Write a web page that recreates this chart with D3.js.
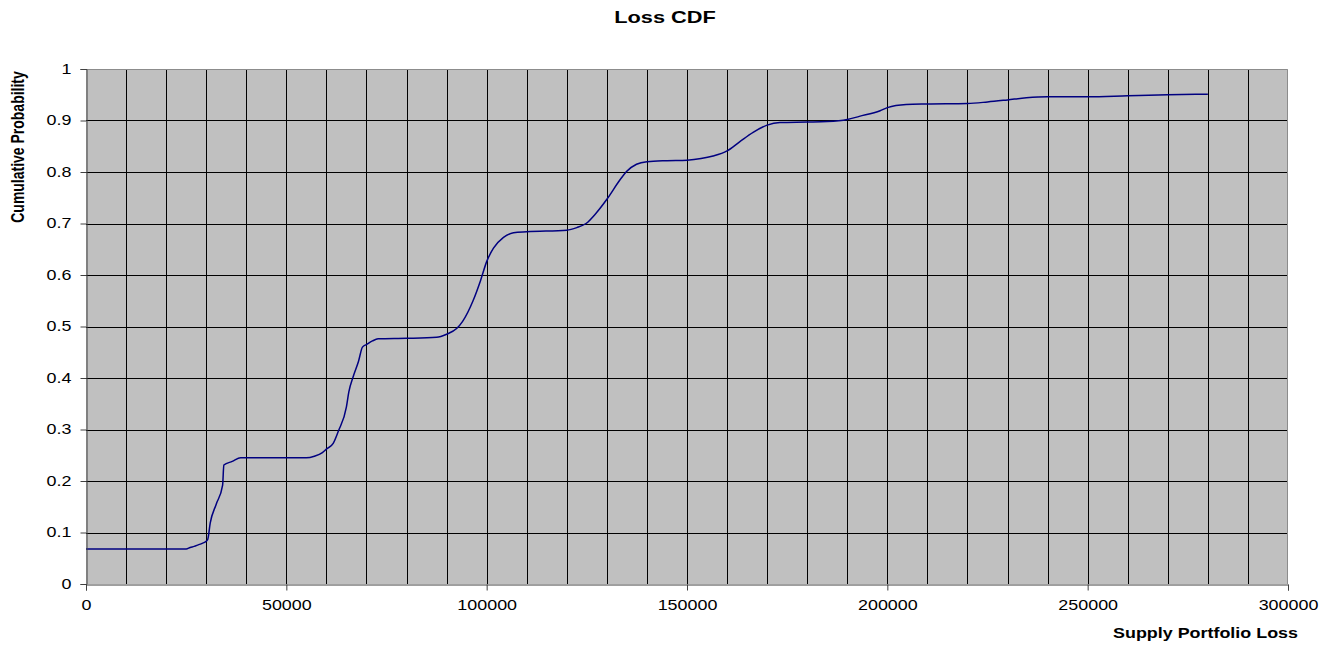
<!DOCTYPE html>
<html>
<head>
<meta charset="utf-8">
<script src="https://cdn.jsdelivr.net/npm/d3@7"></script>
<style>
  body { margin: 0; background: #fff; }
  svg { display: block; font-family: "Liberation Sans", Arial, sans-serif; }
</style>
</head>
<body>
<div id="chart"></div>
<script>
// loss values (x) and cumulative probability (y)
var lossValues = [0, 25000, 26000, 27000, 28000, 29000, 30000, 30400, 31000, 32500, 34100, 34400, 36500, 38600,
  45000, 55000, 57000, 59000, 60000, 61700, 63000, 65000, 65600, 66700, 68000, 69000, 70000, 71500, 72900,
  80000, 87500, 90000, 92500, 94000, 96600, 98500, 100000, 101700, 104200, 106700, 110000, 120000, 122500,
  124800, 127300, 130000, 133200, 134900, 137400, 140000, 145000, 150000, 153500, 156500, 160000, 163200,
  166500, 170000, 173200, 180000, 185000, 190000, 193000, 198200, 200000, 204700, 210000, 220000, 225000,
  230000, 234700, 240000, 250000, 260000, 270000, 280000];
var cumProb = [0.068, 0.068, 0.071, 0.073, 0.076, 0.079, 0.083, 0.087, 0.118, 0.155, 0.192, 0.231, 0.238, 0.245,
  0.245, 0.245, 0.248, 0.255, 0.262, 0.273, 0.297, 0.344, 0.373, 0.403, 0.432, 0.460, 0.465, 0.472, 0.476,
  0.477, 0.479, 0.485, 0.496, 0.510, 0.550, 0.590, 0.626, 0.652, 0.673, 0.682, 0.684, 0.687, 0.692,
  0.700, 0.720, 0.747, 0.784, 0.801, 0.815, 0.820, 0.822, 0.823, 0.826, 0.831, 0.841, 0.859,
  0.877, 0.891, 0.896, 0.897, 0.898, 0.902, 0.908, 0.919, 0.925, 0.931, 0.932, 0.933, 0.936,
  0.940, 0.944, 0.946, 0.946, 0.948, 0.950, 0.951];
var xTicks = [0, 50000, 100000, 150000, 200000, 250000, 300000];
var yTicks = [0, 0.1, 0.2, 0.3, 0.4, 0.5, 0.6, 0.7, 0.8, 0.9, 1];

var W = 1338, H = 645;
var m = [69, 50, 61, 86]; // top right bottom left
var w = 1288 - m[3], h = 584 - m[0];
var sx = 1.28; // text in the original is stretched horizontally

var svg = d3.select("#chart").append("svg")
  .attr("width", W).attr("height", H);

var x = d3.scaleLinear().domain([0, 300000]).range([0, w]);
var y = d3.scaleLinear().domain([0, 1]).range([h, 0]);

var g = svg.append("g").attr("transform", "translate(" + m[3] + "," + m[0] + ")");

g.append("rect").attr("width", w).attr("height", h).attr("fill", "#c0c0c0");

// grid
g.append("g").selectAll("line")
  .data(d3.range(10000, 300000, 10000))
  .enter().append("line")
  .attr("x1", function(d) { return Math.round(x(d)) + 0.5; })
  .attr("x2", function(d) { return Math.round(x(d)) + 0.5; })
  .attr("y1", 0).attr("y2", h)
  .attr("stroke", "#000").attr("stroke-width", 1);

g.append("g").selectAll("line")
  .data(yTicks.slice(1, -1))
  .enter().append("line")
  .attr("x1", 0).attr("x2", w)
  .attr("y1", function(d) { return Math.round(y(d)) + 0.5; })
  .attr("y2", function(d) { return Math.round(y(d)) + 0.5; })
  .attr("stroke", "#000").attr("stroke-width", 1);

// top + right border
g.append("path")
  .attr("d", "M0.5,0.5H" + (w - 0.5) + "V" + h)
  .attr("fill", "none").attr("stroke", "#8c8c8c");

// curve
var line = d3.line()
  .x(function(d, i) { return x(lossValues[i]); })
  .y(function(d) { return y(d); })
  .curve(d3.curveMonotoneX);

g.append("path")
  .datum(cumProb)
  .attr("d", line)
  .attr("fill", "none")
  .attr("stroke", "#000080")
  .attr("stroke-width", 1.5);

// axes
var yAxis = d3.axisLeft(y).tickValues(yTicks).tickFormat(d3.format("")).tickSize(6).tickPadding(9);
var xAxis = d3.axisBottom(x).tickValues(xTicks).tickFormat(d3.format("d")).tickSize(6).tickPadding(10);

var ya = g.append("g").attr("transform", "translate(0.5,0)").call(yAxis);
var xa = g.append("g").attr("transform", "translate(0," + (h + 0.5) + ")").call(xAxis);

[ya, xa].forEach(function(a) {
  a.select(".domain").attr("stroke", "#404040");
  a.selectAll(".tick line").attr("stroke", "#404040");
  a.selectAll("text")
    .attr("font-size", 14)
    .attr("fill", "#000")
    .attr("font-family", "Liberation Sans, Arial, sans-serif");
});
ya.selectAll("text")
  .attr("x", -15 / sx)
  .attr("transform", "scale(" + sx + ",1)");
xa.selectAll("text")
  .attr("transform", "scale(" + sx + ",1)");

// titles
svg.append("text")
  .attr("transform", "translate(665,22.5) scale(" + sx + ",1)")
  .attr("text-anchor", "middle")
  .attr("font-size", 17).attr("font-weight", "bold")
  .text("Loss CDF");

svg.append("text")
  .attr("transform", "translate(1298,638) scale(" + sx + ",1)")
  .attr("text-anchor", "end")
  .attr("font-size", 14).attr("font-weight", "bold")
  .text("Supply Portfolio Loss");

svg.append("text")
  .attr("transform", "translate(23.5,147) scale(" + sx + ",1) rotate(-90)")
  .attr("text-anchor", "middle")
  .attr("font-size", 14).attr("font-weight", "bold")
  .text("Cumulative Probability");
</script>
</body>
</html>
